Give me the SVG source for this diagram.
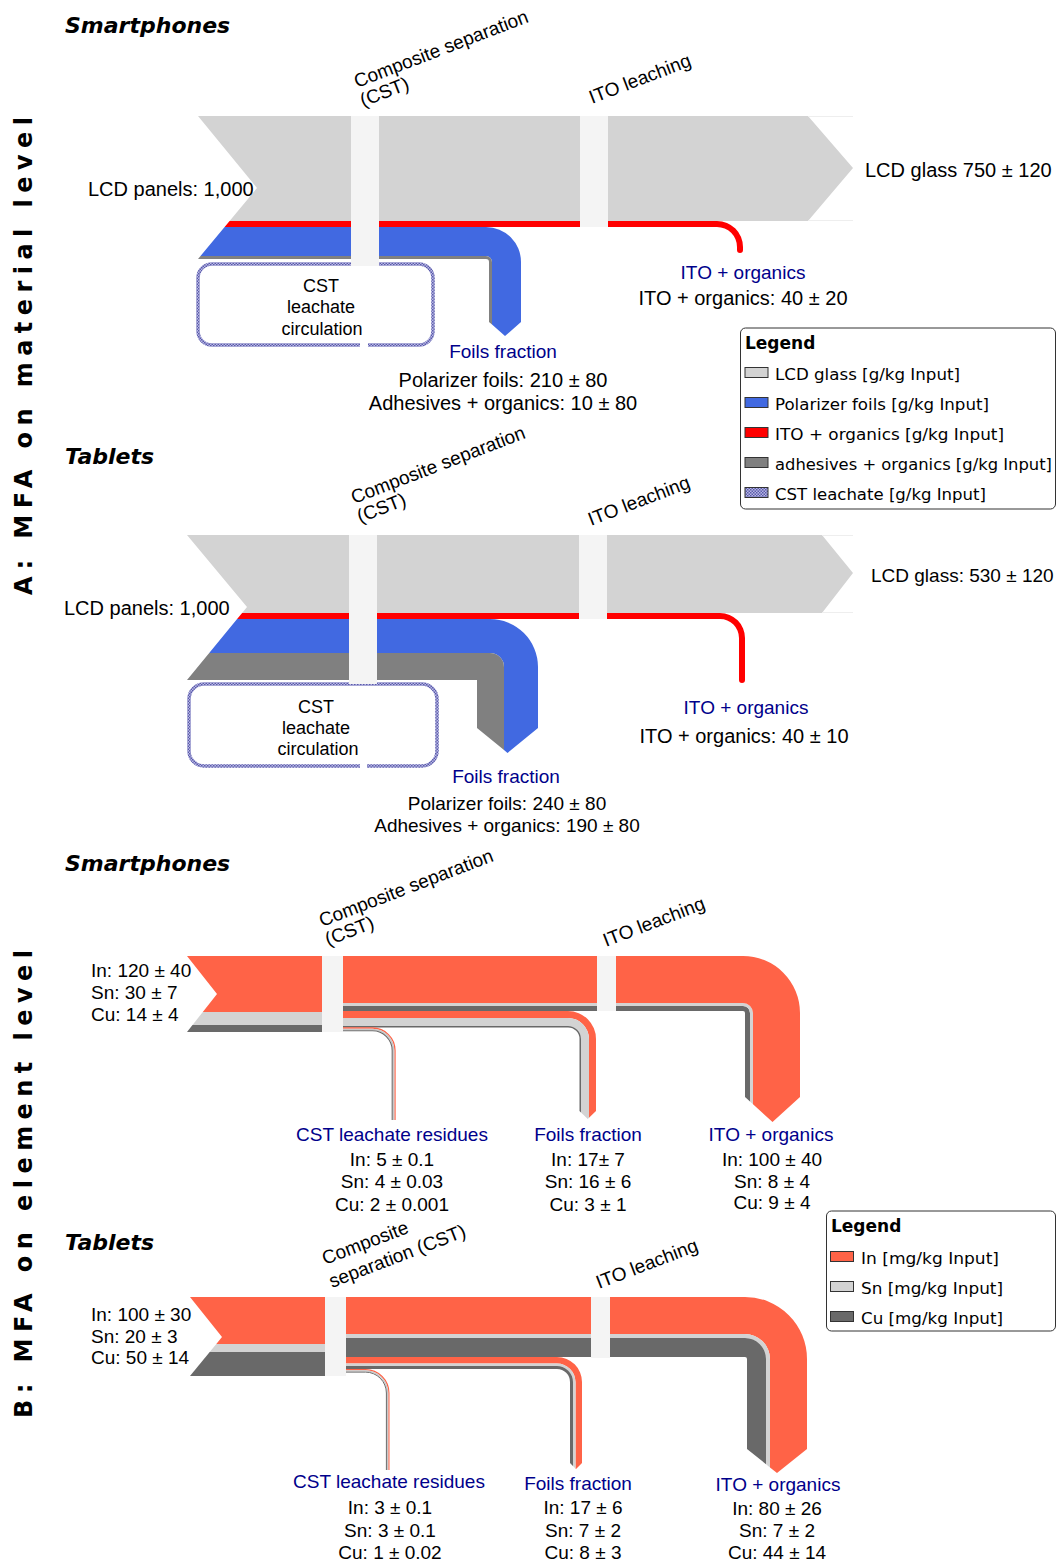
<svg xmlns="http://www.w3.org/2000/svg" width="1059" height="1562" viewBox="0 0 1059 1562">
<style>
.t{font-family:"Liberation Sans",Arial,sans-serif;font-size:20px;fill:#000}
.s19{font-size:19px}
.s18{font-size:18px}
.n{fill:#00008b}
.m{text-anchor:middle}
.lg{font-family:"DejaVu Sans",Verdana,sans-serif;font-size:16.5px;fill:#000}
.lgh{font-family:"DejaVu Sans",Verdana,sans-serif;font-size:17px;font-weight:bold;fill:#000}
.title{font-family:"DejaVu Sans",Verdana,sans-serif;font-size:22px;font-weight:bold;font-style:italic;fill:#000}
.side{font-family:"DejaVu Sans",Verdana,sans-serif;font-size:24px;font-weight:bold;fill:#000}
.sep{fill:#f4f4f4}
.glass{fill:#d3d3d3}.pol{fill:#4169e1}.ito{fill:#ff0000}.adh{fill:#808080}
.in{fill:#ff6347}.sn{fill:#d3d3d3}.cu{fill:#696969}
.box{fill:none;stroke:url(#hatch);stroke-width:3.5}
.sw{stroke:#333;stroke-width:1}
.faint{stroke:#eeeeee;stroke-width:1;fill:none}
</style>
<defs>
<pattern id="hatch" width="3" height="3" patternUnits="userSpaceOnUse">
<rect width="3" height="3" fill="#b8b8e4"/>
<rect width="1.5" height="1.5" fill="#5a5aaa"/>
<rect x="1.5" y="1.5" width="1.5" height="1.5" fill="#5a5aaa"/>
</pattern>
</defs>
<rect width="1059" height="1562" fill="#fff"/>

<!-- side titles -->
<text class="side m" transform="translate(32,356) rotate(-90)" textLength="478" lengthAdjust="spacing">A: MFA on material level</text>
<text class="side m" transform="translate(32,1184) rotate(-90)" textLength="468" lengthAdjust="spacing">B: MFA on element level</text>

<text class="title" x="65" y="33">Smartphones</text>
<text class="title" x="65" y="464">Tablets</text>
<text class="title" x="65" y="871">Smartphones</text>
<text class="title" x="65" y="1250">Tablets</text>

<!-- ============ CONNECTORS ============ -->
<g id="connectors">
 <!-- A smartphones -->
 <g id="a-smart-flows">
  <polygon class="glass" points="198,116 808,116 853,168 808,221 229.6,221 257,188"/>
  <path class="faint" d="M808 116.5H853M808 220.5H853"/>
  <path class="ito" d="M229.6 221H717A26 26 0 0 1 743 247V250A3 3 0 0 1 737 250V247A20 20 0 0 0 717 227H224.6Z"/>
  <path class="pol" d="M224.6 227H486A35 35 0 0 1 521 262V322L505 336L492 324.6V262A6 6 0 0 0 486 256H200.5Z"/>
  <path class="adh" d="M200.5 256H486A6 6 0 0 1 492 262V324.6L489 322V262A3 3 0 0 0 486 259H198Z"/>
 </g>
 <!-- A tablets -->
 <g id="a-tab-flows">
  <polygon class="glass" points="187,535 822,535 853,573 822,613 242.1,613 247,607"/>
  <path class="faint" d="M822 535.5H853M822 612.5H853"/>
  <path class="ito" d="M242.1 613H720A25 25 0 0 1 745 638V680A3 3 0 0 1 739 680V638A19 19 0 0 0 720 619H237.1Z"/>
  <path class="pol" d="M237.1 619H490A48 48 0 0 1 538 667V728L507.5 753L504 750.1V667A14 14 0 0 0 490 653H209.2Z"/>
  <path class="adh" d="M209.2 653H490A14 14 0 0 1 504 667V750.1L477 728V680H187Z"/>
 </g>
 <!-- B smartphones -->
 <g id="b-smart-flows">
  <polygon class="in" points="187,956 335,956 335,1012 202.8,1012 217,994"/>
  <polygon class="sn" points="202.8,1012 335,1012 335,1025 192.5,1025"/>
  <polygon class="cu" points="192.5,1025 335,1025 335,1032 187,1032"/>
  <path class="cu" d="M335 1006H743A7 7 0 0 1 750 1013V1101.5L745 1097V1013A2 2 0 0 0 743 1011H335Z"/>
  <path class="sn" d="M335 1003H743A10 10 0 0 1 753 1013V1104.3L750 1101.5V1013A7 7 0 0 0 743 1006H335Z"/>
  <path class="in" d="M335 956H743A57 57 0 0 1 800 1013V1097L772.5 1122L753 1104.3V1013A10 10 0 0 0 743 1003H335Z"/>
  <path class="in" d="M335 1011H568A28 28 0 0 1 596 1039V1111L589 1117.8V1039A21 21 0 0 0 568 1018H335Z"/>
  <path class="sn" d="M335 1018H568A21 21 0 0 1 589 1039V1117.8L587.75 1119L581 1112.45V1039A13 13 0 0 0 568 1026H335Z"/>
  <path class="cu" d="M335 1026H568A13 13 0 0 1 581 1039V1112.45L579.5 1111V1039A11.5 11.5 0 0 0 568 1027.5H335Z"/>
  <path d="M343 1028H372.5A22.5 22.5 0 0 1 395 1050.5V1120" fill="none" stroke="#ff6347" stroke-width="1.3"/>
  <path d="M343 1029.4H372.5A21.1 21.1 0 0 1 393.6 1050.5V1120" fill="none" stroke="#c8c8c8" stroke-width="1.5"/>
  <path d="M343 1030.8H372.5A19.7 19.7 0 0 1 392.2 1050.5V1120" fill="none" stroke="#696969" stroke-width="1.1"/>
 </g>
 <!-- B tablets -->
 <g id="b-tab-flows">
  <polygon class="in" points="190,1297 338,1297 338,1344 216.3,1344 222,1337"/>
  <polygon class="sn" points="216.3,1344 338,1344 338,1352 209.7,1352"/>
  <polygon class="cu" points="209.7,1352 338,1352 338,1376 190,1376"/>
  <path class="in" d="M338 1297H745A62 62 0 0 1 807 1359V1449L777 1473L770 1467.4V1359A25 25 0 0 0 745 1334H338Z"/>
  <path class="sn" d="M338 1334H745A25 25 0 0 1 770 1359V1467.4L766 1464.2V1359A21 21 0 0 0 745 1338H338Z"/>
  <path class="cu" d="M338 1338H745A21 21 0 0 1 766 1359V1464.2L747 1449V1359A2 2 0 0 0 745 1357H338Z"/>
  <path class="in" d="M338 1357H557A25 25 0 0 1 582 1382V1463L576 1469L575.5 1468.5V1382A18.5 18.5 0 0 0 557 1363.5H338Z"/>
  <path class="sn" d="M338 1363.5H557A18.5 18.5 0 0 1 575.5 1382V1468.5L573 1466V1382A16 16 0 0 0 557 1366H338Z"/>
  <path class="cu" d="M338 1366H557A16 16 0 0 1 573 1382V1466L570 1463V1382A13 13 0 0 0 557 1369H338Z"/>
  <path d="M346 1369.6H365.5A23.4 23.4 0 0 1 388.9 1393V1470" fill="none" stroke="#ff6347" stroke-width="1.2"/>
  <path d="M346 1370.9H365.5A22.1 22.1 0 0 1 387.6 1393V1470" fill="none" stroke="#c8c8c8" stroke-width="1.4"/>
  <path d="M346 1372.1H365.5A20.9 20.9 0 0 1 386.4 1393V1470" fill="none" stroke="#696969" stroke-width="1"/>
 </g>
</g>

<!-- ============ NODES ============ -->
<!-- A smartphones -->
<g id="a-smart-input"><text class="t" x="88" y="195.5">LCD panels: 1,000</text></g>
<g id="a-smart-cst-box">
 <path class="box" d="M368 345H419A14 14 0 0 0 433 331V278A14 14 0 0 0 419 264H212A14 14 0 0 0 198 278V331A14 14 0 0 0 212 345H360"/>
 <text class="t s18 m" x="321" y="292">CST</text>
 <text class="t s18 m" x="321" y="313">leachate</text>
 <text class="t s18 m" x="322" y="335">circulation</text>
</g>
<g id="a-smart-cst">
 <rect class="sep" x="351" y="116" width="28" height="150"/>
 <text class="t s19" transform="translate(357,88) rotate(-21)">Composite separation</text>
 <text class="t s19" transform="translate(363,107) rotate(-21)">(CST)</text>
</g>
<g id="a-smart-ito">
 <rect class="sep" x="580" y="116" width="28" height="111"/>
 <text class="t s19" transform="translate(592,104) rotate(-21)">ITO leaching</text>
</g>
<g id="a-smart-glass"><text class="t" x="865" y="177">LCD glass 750 ± 120</text></g>
<g id="a-smart-ito-out">
 <text class="t s19 n m" x="743" y="279">ITO + organics</text>
 <text class="t m" x="743" y="305">ITO + organics: 40 ± 20</text>
</g>
<g id="a-smart-foils">
 <text class="t s19 n m" x="503" y="358">Foils fraction</text>
 <text class="t m" x="503" y="387">Polarizer foils: 210 ± 80</text>
 <text class="t m" x="503" y="410">Adhesives + organics: 10 ± 80</text>
</g>

<!-- A tablets -->
<g id="a-tab-input"><text class="t" x="64" y="615">LCD panels: 1,000</text></g>
<g id="a-tab-cst-box">
 <path class="box" d="M367 766H422A15 15 0 0 0 437 751V699A15 15 0 0 0 422 684H204A15 15 0 0 0 189 699V751A15 15 0 0 0 204 766H360"/>
 <text class="t s18 m" x="316" y="713">CST</text>
 <text class="t s18 m" x="316" y="734">leachate</text>
 <text class="t s18 m" x="318" y="755">circulation</text>
</g>
<g id="a-tab-cst">
 <rect class="sep" x="349" y="535" width="28" height="149"/>
 <text class="t s19" transform="translate(354,504) rotate(-21)">Composite separation</text>
 <text class="t s19" transform="translate(360,523) rotate(-21)">(CST)</text>
</g>
<g id="a-tab-ito">
 <rect class="sep" x="579" y="535" width="28" height="84"/>
 <text class="t s19" transform="translate(591,526) rotate(-21)">ITO leaching</text>
</g>
<g id="a-tab-glass"><text class="t s19" x="871" y="582">LCD glass: 530 ± 120</text></g>
<g id="a-tab-ito-out">
 <text class="t s19 n m" x="746" y="714">ITO + organics</text>
 <text class="t m" x="744" y="743">ITO + organics: 40 ± 10</text>
</g>
<g id="a-tab-foils">
 <text class="t s19 n m" x="506" y="783">Foils fraction</text>
 <text class="t s19 m" x="507" y="810">Polarizer foils: 240 ± 80</text>
 <text class="t s19 m" x="507" y="832">Adhesives + organics: 190 ± 80</text>
</g>

<!-- Legend A -->
<g id="legend-a">
 <rect x="740.5" y="328" width="315" height="181" rx="5" fill="#fff" stroke="#333" stroke-width="1"/>
 <text class="lgh" x="745" y="349">Legend</text>
 <rect class="sw" x="745" y="367.5" width="23" height="10" fill="#d3d3d3"/>
 <text class="lg" x="775" y="380" textLength="185" lengthAdjust="spacingAndGlyphs">LCD glass [g/kg Input]</text>
 <rect class="sw" x="745" y="397.5" width="23" height="10" fill="#4169e1"/>
 <text class="lg" x="775" y="410" textLength="214" lengthAdjust="spacingAndGlyphs">Polarizer foils [g/kg Input]</text>
 <rect class="sw" x="745" y="427.5" width="23" height="10" fill="#ff0000"/>
 <text class="lg" x="775" y="440" textLength="229" lengthAdjust="spacingAndGlyphs">ITO + organics [g/kg Input]</text>
 <rect class="sw" x="745" y="457.5" width="23" height="10" fill="#808080"/>
 <text class="lg" x="775" y="470" textLength="277" lengthAdjust="spacingAndGlyphs">adhesives + organics [g/kg Input]</text>
 <rect class="sw" x="745" y="487.5" width="23" height="10" fill="url(#hatch)"/>
 <text class="lg" x="775" y="500" textLength="211" lengthAdjust="spacingAndGlyphs">CST leachate [g/kg Input]</text>
</g>

<!-- B smartphones -->
<g id="b-smart-input">
 <text class="t s19" x="91" y="976.5">In: 120 ± 40</text>
 <text class="t s19" x="91" y="998.5">Sn: 30 ± 7</text>
 <text class="t s19" x="91" y="1020.5">Cu: 14 ± 4</text>
</g>
<g id="b-smart-cst">
 <rect class="sep" x="322" y="956" width="21" height="76"/>
 <text class="t s19" transform="translate(322,927) rotate(-21)">Composite separation</text>
 <text class="t s19" transform="translate(328,946) rotate(-21)">(CST)</text>
</g>
<g id="b-smart-ito">
 <rect class="sep" x="597" y="956" width="19" height="55"/>
 <text class="t s19" transform="translate(606,947) rotate(-21)">ITO leaching</text>
</g>
<g id="b-smart-cst-res">
 <text class="t s19 n m" x="392" y="1141">CST leachate residues</text>
 <text class="t s19 m" x="392" y="1165.5">In: 5 ± 0.1</text>
 <text class="t s19 m" x="392" y="1187.5">Sn: 4 ± 0.03</text>
 <text class="t s19 m" x="392" y="1210.5">Cu: 2 ± 0.001</text>
</g>
<g id="b-smart-foils">
 <text class="t s19 n m" x="588" y="1141">Foils fraction</text>
 <text class="t s19 m" x="588" y="1165.5">In: 17± 7</text>
 <text class="t s19 m" x="588" y="1187.5">Sn: 16 ± 6</text>
 <text class="t s19 m" x="588" y="1210.5">Cu: 3 ± 1</text>
</g>
<g id="b-smart-ito-out">
 <text class="t s19 n m" x="771" y="1141">ITO + organics</text>
 <text class="t s19 m" x="772" y="1165.5">In: 100 ± 40</text>
 <text class="t s19 m" x="772" y="1187.5">Sn: 8 ± 4</text>
 <text class="t s19 m" x="772" y="1209">Cu: 9 ± 4</text>
</g>

<!-- B tablets -->
<g id="b-tab-input">
 <text class="t s19" x="91" y="1320.5">In: 100 ± 30</text>
 <text class="t s19" x="91" y="1342.5">Sn: 20 ± 3</text>
 <text class="t s19" x="91" y="1363.5">Cu: 50 ± 14</text>
</g>
<g id="b-tab-cst">
 <rect class="sep" x="325" y="1297" width="21" height="79"/>
 <text class="t s19" transform="translate(325,1265) rotate(-21)">Composite</text>
 <text class="t s19" transform="translate(332,1288) rotate(-21)">separation (CST)</text>
</g>
<g id="b-tab-ito">
 <rect class="sep" x="591" y="1297" width="19" height="61"/>
 <text class="t s19" transform="translate(599,1289) rotate(-21)">ITO leaching</text>
</g>
<g id="b-tab-cst-res">
 <text class="t s19 n m" x="389" y="1488">CST leachate residues</text>
 <text class="t s19 m" x="390" y="1513.5">In: 3 ± 0.1</text>
 <text class="t s19 m" x="390" y="1536.5">Sn: 3 ± 0.1</text>
 <text class="t s19 m" x="390" y="1558.5">Cu: 1 ± 0.02</text>
</g>
<g id="b-tab-foils">
 <text class="t s19 n m" x="578" y="1490">Foils fraction</text>
 <text class="t s19 m" x="583" y="1513.5">In: 17 ± 6</text>
 <text class="t s19 m" x="583" y="1536.5">Sn: 7 ± 2</text>
 <text class="t s19 m" x="583" y="1558.5">Cu: 8 ± 3</text>
</g>
<g id="b-tab-ito-out">
 <text class="t s19 n m" x="778" y="1491">ITO + organics</text>
 <text class="t s19 m" x="777" y="1514.5">In: 80 ± 26</text>
 <text class="t s19 m" x="777" y="1536.5">Sn: 7 ± 2</text>
 <text class="t s19 m" x="777" y="1558.5">Cu: 44 ± 14</text>
</g>

<!-- Legend B -->
<g id="legend-b">
 <rect x="826.5" y="1211" width="229" height="120" rx="5" fill="#fff" stroke="#333" stroke-width="1"/>
 <text class="lgh" x="831" y="1232">Legend</text>
 <rect class="sw" x="830.5" y="1251.5" width="23" height="10" fill="#ff6347"/>
 <text class="lg" x="861" y="1264" textLength="138" lengthAdjust="spacingAndGlyphs">In [mg/kg Input]</text>
 <rect class="sw" x="830.5" y="1281.5" width="23" height="10" fill="#d3d3d3"/>
 <text class="lg" x="861" y="1294" textLength="142" lengthAdjust="spacingAndGlyphs">Sn [mg/kg Input]</text>
 <rect class="sw" x="830.5" y="1311.5" width="23" height="10" fill="#696969"/>
 <text class="lg" x="861" y="1324" textLength="142" lengthAdjust="spacingAndGlyphs">Cu [mg/kg Input]</text>
</g>
</svg>
